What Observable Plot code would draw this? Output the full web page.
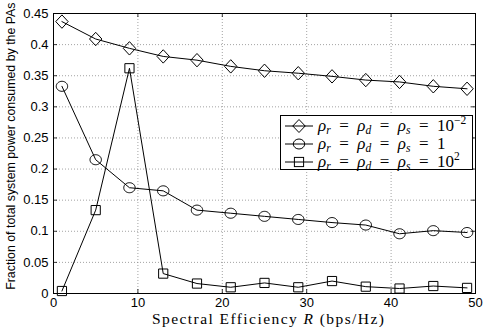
<!DOCTYPE html>
<html><head><meta charset="utf-8">
<script src="https://cdn.jsdelivr.net/npm/d3@7"></script>
<script src="https://cdn.jsdelivr.net/npm/@observablehq/plot@0.6"></script>
<style>
body{margin:0;background:#fff;}
#wrap{position:relative;width:491px;height:327px;overflow:hidden;}
#wrap > svg{position:absolute;left:0;top:0;}
.ylab{position:absolute;font-family:"Liberation Sans",Arial,sans-serif;font-size:13px;white-space:nowrap;transform-origin:center;line-height:1;}
.xlab{position:absolute;font-family:"Liberation Serif","Times New Roman",serif;font-size:15.5px;white-space:nowrap;line-height:1;}
.legend{position:absolute;border:1px solid #000;background:#fff;font-family:"Liberation Serif","Times New Roman",serif;font-size:17px;box-sizing:border-box;}
.legend .row{position:absolute;left:0;display:flex;align-items:center;height:18px;line-height:18px;white-space:nowrap;}
.legend svg{display:block;}
.legend i{font-style:italic;}
.legend .eq{margin:0 4px;}
.legend sub{font-size:11.5px;vertical-align:-3px;line-height:0;font-style:italic;}
.legend sup{font-size:11.5px;vertical-align:7px;line-height:0;}
</style></head>
<body>
<div id="wrap"></div>
<script>
const R = [1,5,9,13,17,21,25,29,33,37,41,45,49];
const rho001 = [0.437,0.409,0.394,0.381,0.375,0.365,0.358,0.354,0.349,0.343,0.340,0.333,0.329];
const rho1   = [0.333,0.215,0.170,0.165,0.134,0.129,0.124,0.119,0.114,0.110,0.096,0.101,0.098];
const rho100 = [0.004,0.134,0.362,0.032,0.016,0.010,0.017,0.010,0.020,0.011,0.008,0.012,0.009];
const seriesNames = ["1e-2","1","1e2"];
const xTicks = [0,10,20,30,40,50];
const yTicks = [0,0.05,0.1,0.15,0.2,0.25,0.3,0.35,0.4,0.45];

const diamondSym = {draw(ctx, size){const r=Math.sqrt(size/Math.PI);ctx.moveTo(0,-r*1.08);ctx.lineTo(r,0);ctx.lineTo(0,r*1.08);ctx.lineTo(-r,0);ctx.closePath();}};
const ellipseSym = {draw(ctx, size){const r=Math.sqrt(size/Math.PI);const ry=r*0.88;const n=40;for(let i=0;i<=n;i++){const a=2*Math.PI*i/n;const x=r*Math.cos(a),y=ry*Math.sin(a);if(i===0)ctx.moveTo(x,y);else ctx.lineTo(x,y);}ctx.closePath();}};
const squareSym = {draw(ctx, size){const r=Math.sqrt(size/Math.PI);ctx.rect(-r,-r,2*r,2*r);}};

const mk = (vals, name) => R.map((x,i)=>({x, y: vals[i], s: name}));
const d1 = mk(rho001, seriesNames[0]);
const d2 = mk(rho1, seriesNames[1]);
const d3s = mk(rho100, seriesNames[2]);

const W=491,H=327, mL=53, mR=16, mT=13, mB=34;
const pw = W-mL-mR, ph = H-mT-mB;
const grid = {stroke:"#8c8c8c", strokeOpacity:1, strokeDasharray:"1,2", strokeWidth:0.8};

const chart = Plot.plot({
  width: W, height: H,
  marginLeft: mL, marginRight: mR, marginTop: mT, marginBottom: mB,
  style: {fontFamily: '"Liberation Sans", Arial, sans-serif', fontSize: "13px", color:"#000", background:"transparent"},
  x: {domain:[0,50], ticks: xTicks, label: null},
  y: {domain:[0,0.45], ticks: yTicks, label: null},
  marks: [
    Plot.ruleX(xTicks.slice(1,-1), {x: d=>d, ...grid}),
    Plot.ruleY(yTicks.slice(1,-1), {y: d=>d, ...grid}),
    Plot.tickY(yTicks, {y: d=>d, insetRight: pw-4, stroke:"#000", strokeWidth:0.8}),
    Plot.tickY(yTicks, {y: d=>d, insetLeft: pw-4, stroke:"#000", strokeWidth:0.8}),
    Plot.tickX(xTicks, {x: d=>d, insetTop: ph-4, stroke:"#000", strokeWidth:0.8}),
    Plot.tickX(xTicks, {x: d=>d, insetBottom: ph-4, stroke:"#000", strokeWidth:0.8}),
    Plot.axisX({ticks: xTicks, tickSize: 0, tickPadding: 4, tickFormat: d=>String(d), label:null, fontSize: 13}),
    Plot.axisY({ticks: yTicks, tickSize: 0, tickPadding: 5, tickFormat: d=>String(+d.toFixed(2)), label:null, fontSize: 13}),
    Plot.line(d1, {x:"x", y:"y", stroke:"#000", strokeWidth:1}),
    Plot.line(d2, {x:"x", y:"y", stroke:"#000", strokeWidth:1}),
    Plot.line(d3s, {x:"x", y:"y", stroke:"#000", strokeWidth:1}),
    Plot.dot(d1, {x:"x", y:"y", symbol: diamondSym, r:6.2, stroke:"#000", fill:"none", strokeWidth:1}),
    Plot.dot(d2, {x:"x", y:"y", symbol: ellipseSym, r:5.7, stroke:"#000", fill:"none", strokeWidth:1}),
    Plot.dot(d3s, {x:"x", y:"y", symbol: squareSym, r:4.6, stroke:"#000", fill:"none", strokeWidth:1}),
    Plot.frame({stroke:"#000", strokeWidth:1})
  ]
});
const wrap = document.getElementById("wrap");
wrap.appendChild(chart);

// y label
const yl = document.createElement("div");
yl.className = "ylab";
yl.textContent = "Fraction of total system power consumed by the PAs";
wrap.appendChild(yl);
yl.style.fontSize = (13 * 288 / yl.offsetWidth) + "px";
const yw = yl.offsetWidth, yh = yl.offsetHeight;
yl.style.left = (11 - yw/2) + "px";
yl.style.top = (146 - yh/2) + "px";
yl.style.transform = "rotate(-90deg)";

// x label
const xl = document.createElement("div");
xl.className = "xlab";
xl.innerHTML = 'Spectral Efficiency <i>R</i> (bps/Hz)';
wrap.appendChild(xl);
const xtxt = xl.textContent.length;
xl.style.letterSpacing = ((233 - xl.offsetWidth) / xtxt) + "px";
xl.style.left = (268.5 - xl.offsetWidth/2) + "px";
xl.style.top = (319 - xl.offsetHeight/2) + "px";

// legend
const sym = {
  "1e-2": '<path d="M14,-6.5 L20.2,0 L14,6.5 L7.8,0 Z" fill="white" stroke="#000"/><line x1="7.8" x2="20.2" y1="0" y2="0" stroke="#000"/>',
  "1": '<ellipse cx="14" cy="0" rx="5.7" ry="5" fill="white" stroke="#000"/><line x1="8.3" x2="19.7" y1="0" y2="0" stroke="#000"/>',
  "1e2": '<rect x="9.4" y="-4.6" width="9.2" height="9.2" fill="white" stroke="#000"/><line x1="9.4" x2="18.6" y1="0" y2="0" stroke="#000"/>'
};
const rhoPart = '<i>ρ</i><sub>r</sub><span class="eq">=</span><i>ρ</i><sub>d</sub><span class="eq">=</span><i>ρ</i><sub>s</sub><span class="eq">=</span>';
const labels = {
  "1e-2": rhoPart + '10<sup>−2</sup>',
  "1": rhoPart + '1',
  "1e2": rhoPart + '10<sup>2</sup>'
};
const lg = document.createElement("div");
lg.className = "legend";
lg.style.left = "280px";
lg.style.top = "115px";
lg.style.width = (473-280) + "px";
lg.style.height = (170-115) + "px";
lg.innerHTML = seriesNames.map((n,i) => `<div class="row" style="top:${1 + i*18}px;left:4px"><svg width="30" height="18" viewBox="0 -9 30 18"><line x1="0" x2="28" y1="0" y2="0" stroke="#000"/>${sym[n]}</svg><span class="lt" style="margin-left:3px">${labels[n]}</span></div>`).join("");
wrap.appendChild(lg);
// fit the widest legend text to the reference width
const first = lg.querySelector(".lt");
const extra = Math.max(0, (148 - first.offsetWidth) / 6);
lg.querySelectorAll(".eq").forEach(e => { e.style.margin = `0 ${4 + extra}px`; });
</script>
</body></html>
